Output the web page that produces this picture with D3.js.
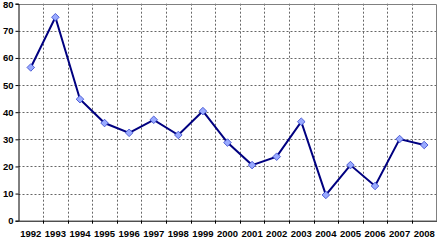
<!DOCTYPE html>
<html><head><meta charset="utf-8">
<script src="https://cdn.jsdelivr.net/npm/d3@7"></script>
<style>body{margin:0;background:#fff}svg{display:block}</style>
</head><body>
<script>
const years = ["1992","1993","1994","1995","1996","1997","1998","1999","2000","2001","2002","2003","2004","2005","2006","2007","2008"];
const values = [56.5,75,44.8,36,32.4,37.2,31.6,40.4,28.8,20.5,23.6,36.5,9.5,20.5,12.8,30.1,27.9];
const yTicks = [0,10,20,30,40,50,60,70,80];

const W=438,H=240;
const m={l:18.5,r:1.5,t:3.7,b:19.3};
const FONT="Arial, 'Liberation Sans', sans-serif";
const svg=d3.select("body").append("svg").attr("width",W).attr("height",H);
const x=d3.scaleBand().domain(years).range([m.l,W-m.r]);
const y=d3.scaleLinear().domain([0,80]).range([H-m.b,m.t]);

const g=svg.append("g");
g.selectAll("line.hg").data(yTicks.filter(d=>d>0&&d<80)).join("line")
 .attr("x1",m.l).attr("x2",W-m.r).attr("y1",d=>Math.round(y(d))+0.5).attr("y2",d=>Math.round(y(d))+0.5)
 .attr("stroke","#666").attr("stroke-width",1).attr("stroke-dasharray","2,2");
g.selectAll("line.vg").data(years.slice(1)).join("line")
 .attr("x1",d=>Math.round(x(d))+0.5).attr("x2",d=>Math.round(x(d))+0.5).attr("y1",y(80)).attr("y2",y(0))
 .attr("stroke","#666").attr("stroke-width",1).attr("stroke-dasharray","2,2");
svg.append("path").attr("d",`M${m.l},${Math.round(y(80))+0.5}H${W-m.r}V${y(0)}`)
 .attr("fill","none").attr("stroke","#808080");

const ya=d3.axisLeft(y).tickValues(yTicks).tickSize(3).tickFormat(d3.format("d"));
const yg=svg.append("g").attr("transform",`translate(${m.l},0)`).call(ya);
yg.select(".domain").attr("stroke","#000");
yg.selectAll("text").attr("font-family",FONT).attr("font-size",9.5).attr("font-weight","bold").attr("x",-5)
 .attr("dy",d=>d===80?"0.45em":"0.32em");

const xa=d3.axisBottom(x).tickSize(0).tickPadding(10);
const xg=svg.append("g").attr("transform",`translate(0,${y(0)})`).call(xa);
xg.select(".domain").attr("stroke","#000");
xg.selectAll("text").attr("font-family",FONT).attr("font-size",9.5).attr("font-weight","bold");
xg.selectAll("line.bt").data(years.slice(1)).join("line").attr("class","bt")
 .attr("x1",d=>Math.round(x(d))+0.5).attr("x2",d=>Math.round(x(d))+0.5).attr("y1",0).attr("y2",3).attr("stroke","#000");

const cx=d=>x(d)+x.bandwidth()/2;
const line=d3.line().x((d,i)=>cx(years[i])).y(d=>y(d));
svg.append("path").datum(values).attr("d",line).attr("fill","none").attr("stroke","#000080").attr("stroke-width",2);
svg.selectAll("path.mk").data(values).join("path").attr("class","mk")
 .attr("transform",(d,i)=>`translate(${cx(years[i])},${y(d)})`)
 .attr("d","M0,-3.8L3.8,0L0,3.8L-3.8,0Z")
 .attr("fill","#99aaff").attr("stroke","#3344cc").attr("stroke-width",0.8);
</script>
</body></html>
